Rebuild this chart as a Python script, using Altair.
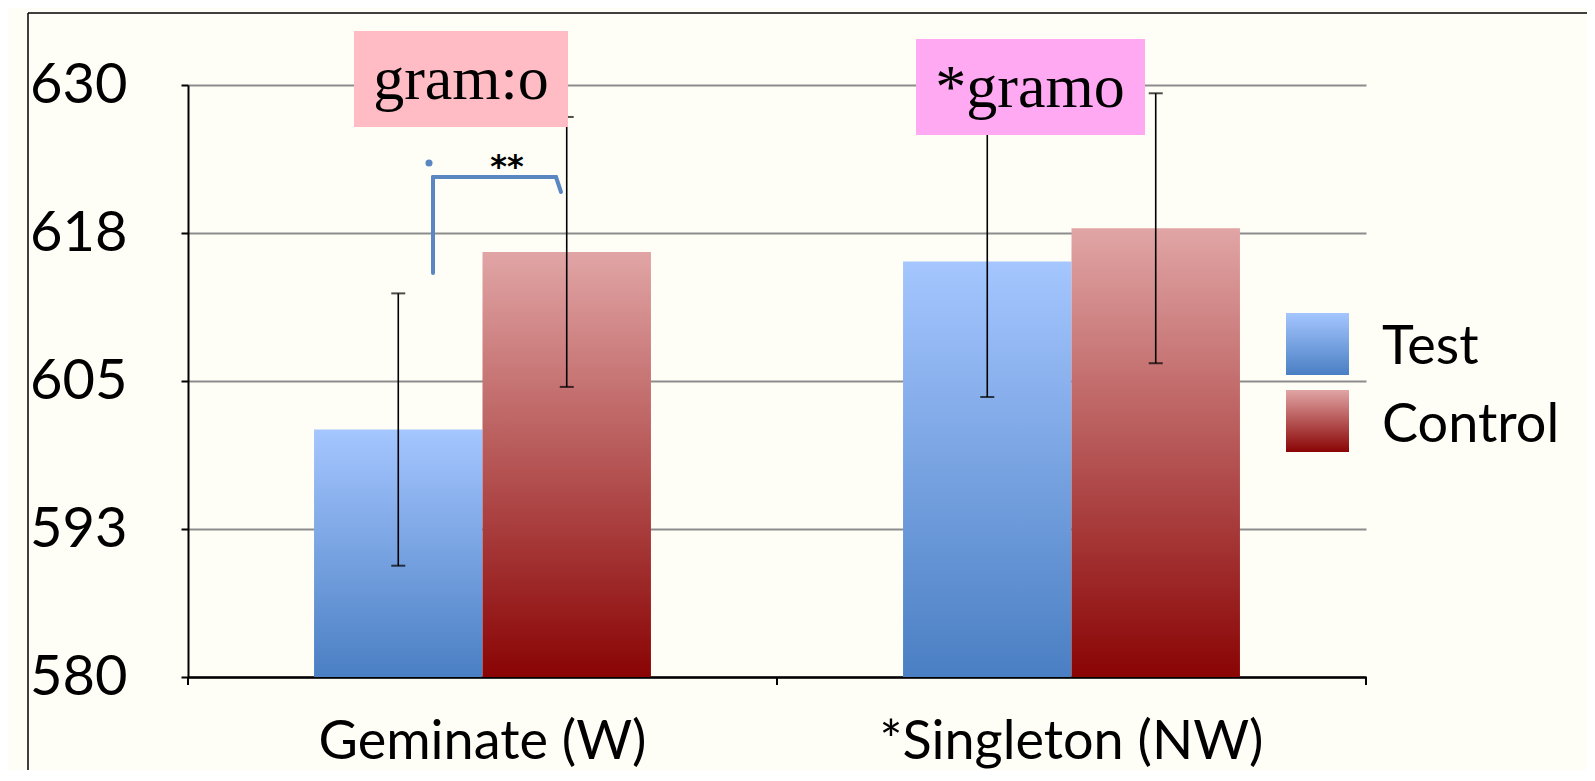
import altair as alt
import pandas as pd

# ---- data ----
categories = ["Geminate (W)", "*Singleton (NW)"]
series = ["Test", "Control"]
test_means = [600.9, 615.1]
control_means = [615.9, 617.9]
test_errors = [11.5, 11.45]
control_errors = [11.4, 11.4]
y_ticks = [580, 592.5, 605, 617.5, 630]
y_domain = [580, 630]
annotation_labels = ["gram:o", "*gramo"]
significance_label = "**"

rows = []
for i, c in enumerate(categories):
    rows.append({"category": c, "series": series[0], "mean": test_means[i], "err": test_errors[i]})
    rows.append({"category": c, "series": series[1], "mean": control_means[i], "err": control_errors[i]})
df = pd.DataFrame(rows)

W, H = 1178, 592
FONT = "Lato"
BLUE_LINE = "#5A87C2"

grad_test = {"gradient": "linear", "x1": 0, "y1": 0, "x2": 0, "y2": 1,
             "stops": [{"offset": 0, "color": "#A5C6FF"}, {"offset": 1, "color": "#4A7FC3"}]}
grad_ctrl = {"gradient": "linear", "x1": 0, "y1": 0, "x2": 0, "y2": 1,
             "stops": [{"offset": 0, "color": "#E1A5A5"}, {"offset": 1, "color": "#8A0404"}]}

x_axis = alt.Axis(title=None, labelAngle=0, tickSize=8, tickOpacity=0,
                  domainColor="black", domainWidth=2.5, labelFontSize=54, labelLimit=0,
                  labelFont=FONT, labelColor="black", labelPadding=73, labelBaseline="alphabetic",
                  grid=False)
y_axis = alt.Axis(title=None, values=y_ticks, format=".0f", labelFontSize=56, labelFont=FONT,
                  labelColor="black", tickSize=7, tickColor="black", tickWidth=2,
                  domainColor="black", domainWidth=2, grid=True, gridColor="#8C8C8C",
                  gridWidth=2, labelPadding=54, labelFlush=False, labelOverlap=False)

x_enc = alt.X("category:N", sort=categories,
              scale=alt.Scale(paddingInner=0.428, paddingOuter=0.214), axis=x_axis)
xoff = alt.XOffset("series:N", sort=series, scale=alt.Scale(paddingInner=0, paddingOuter=0))
y_scale = alt.Scale(domain=y_domain, zero=False, nice=False)

base = alt.Chart(df)

bars = base.mark_bar().encode(
    x=x_enc, xOffset=xoff,
    y=alt.Y("mean:Q", scale=y_scale, axis=y_axis),
    y2=alt.Y2(datum=y_domain[0]),
    fill={"condition": {"test": "datum.series === 'Test'", "value": grad_test}, "value": grad_ctrl},
)

err = base.transform_calculate(lo="datum.mean - datum.err", hi="datum.mean + datum.err")
err_rule = err.mark_rule(color="black", strokeWidth=1.6).encode(
    x=x_enc, xOffset=xoff, y=alt.Y("lo:Q", scale=y_scale, axis=y_axis), y2="hi:Q")
cap_lo = err.mark_tick(color="black", thickness=2, size=14).encode(
    x=x_enc, xOffset=xoff, y=alt.Y("lo:Q", scale=y_scale, axis=y_axis))
cap_hi = err.mark_tick(color="black", thickness=2, size=14).encode(
    x=x_enc, xOffset=xoff, y=alt.Y("hi:Q", scale=y_scale, axis=y_axis))

# x-axis ticks at the category boundaries
xt = alt.Chart(pd.DataFrame({"label": ["xtick"]}))
xtick_layers = [
    xt.mark_rule(color="black", strokeWidth=2).encode(
        x=alt.value(px), y=alt.value(H), y2=alt.value(H + 8))
    for px in (0, W / 2, W)
]

# annotation boxes
ann1 = alt.Chart(pd.DataFrame({"label": [annotation_labels[0]]}))
ann2 = alt.Chart(pd.DataFrame({"label": [annotation_labels[1]]}))
box1 = ann1.mark_rect(fill="#FFBCC4").encode(
    x=alt.value(166), x2=alt.value(380), y=alt.value(-54), y2=alt.value(42))
txt1 = ann1.mark_text(font="Liberation Serif", fontSize=62, align="center",
                      baseline="alphabetic", color="black").encode(
    x=alt.value(273), y=alt.value(14), text="label:N")
box2 = ann2.mark_rect(fill="#FFA9F3").encode(
    x=alt.value(728), x2=alt.value(957), y=alt.value(-46), y2=alt.value(50))
txt2 = ann2.mark_text(font="Liberation Serif", fontSize=62, align="center",
                      baseline="alphabetic", color="black").encode(
    x=alt.value(842), y=alt.value(22), text="label:N")

# significance bracket
sig = alt.Chart(pd.DataFrame({"label": [significance_label]}))
br1 = sig.mark_rule(color=BLUE_LINE, strokeWidth=4, strokeCap="round").encode(
    x=alt.value(245), y=alt.value(188), y2=alt.value(92))
br2 = sig.mark_rule(color=BLUE_LINE, strokeWidth=4, strokeCap="round").encode(
    x=alt.value(245), x2=alt.value(368), y=alt.value(92))
br3 = sig.mark_rule(color=BLUE_LINE, strokeWidth=4, strokeCap="round").encode(
    x=alt.value(368), x2=alt.value(373), y=alt.value(92), y2=alt.value(107))
dot = sig.mark_circle(color=BLUE_LINE, opacity=1, size=50).encode(
    x=alt.value(241), y=alt.value(78))
stars = sig.mark_text(font="DejaVu Sans", fontSize=32, fontWeight="bold", align="center",
                      baseline="alphabetic", color="black").encode(
    x=alt.value(319), y=alt.value(92), text="label:N")

# legend (manual, gradient swatches)
leg_t = alt.Chart(pd.DataFrame({"label": [series[0]]}))
leg_c = alt.Chart(pd.DataFrame({"label": [series[1]]}))
sw_t = leg_t.mark_rect(fill=grad_test).encode(
    x=alt.value(1098), x2=alt.value(1161), y=alt.value(228), y2=alt.value(290))
sw_c = leg_c.mark_rect(fill=grad_ctrl).encode(
    x=alt.value(1098), x2=alt.value(1161), y=alt.value(305), y2=alt.value(367))
lt_t = leg_t.mark_text(font=FONT, fontSize=54, align="left", baseline="alphabetic",
                       color="black").encode(x=alt.value(1194), y=alt.value(279), text="label:N")
lt_c = leg_c.mark_text(font=FONT, fontSize=54, align="left", baseline="alphabetic",
                       color="black").encode(x=alt.value(1194), y=alt.value(357), text="label:N")

# slide frame
frame = alt.Chart(pd.DataFrame({"label": ["frame"]}))
fr_top = frame.mark_rule(color="black", strokeWidth=1.5).encode(
    x=alt.value(-160), x2=alt.value(1600), y=alt.value(-72))
fr_left = frame.mark_rule(color="black", strokeWidth=1.5).encode(
    x=alt.value(-160), y=alt.value(-72), y2=alt.value(800))

chart = alt.layer(
    bars, err_rule, cap_lo, cap_hi, *xtick_layers,
    box1, txt1, box2, txt2,
    br1, br2, br3, dot, stars,
    sw_t, sw_c, lt_t, lt_c,
    fr_top, fr_left,
).properties(
    width=W, height=H,
    autosize=alt.AutoSizeParams(type="none"),
    padding={"left": 180, "top": 77, "right": 221, "bottom": 93},
    background="#FFFEF6",
).configure_view(stroke=None)

chart.save("out.html", embed_options={"renderer": "svg", "actions": False})
